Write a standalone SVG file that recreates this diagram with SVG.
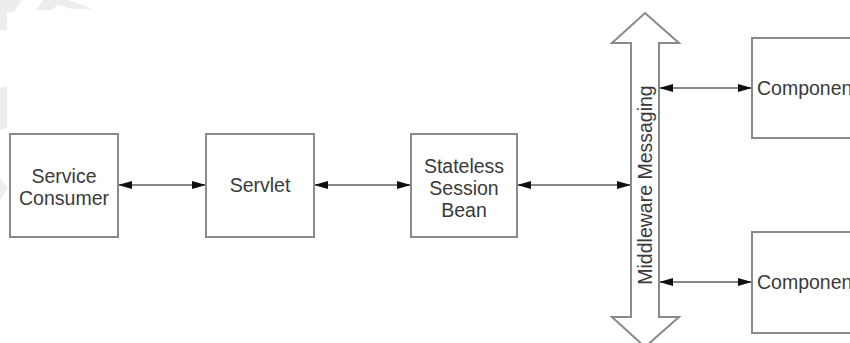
<svg xmlns="http://www.w3.org/2000/svg" width="850" height="343" viewBox="0 0 850 343">
  <style>
    .box { fill: #ffffff; stroke: #8a8a8a; stroke-width: 2; }
    .bus { fill: #ffffff; stroke: #8a8a8a; stroke-width: 2; stroke-linejoin: miter; }
    .label { font-family: "Liberation Sans", Arial, sans-serif; font-size: 19.5px; fill: #3a3a3a; text-anchor: middle; }
    .link { stroke: #606060; stroke-width: 1.6; fill: none; marker-start: url(#head); marker-end: url(#head); }
    .mark { fill: #ededed; }
  </style>
  <defs>
    <marker id="head" viewBox="0 0 14 10" refX="14" refY="5" markerWidth="14" markerHeight="10" markerUnits="userSpaceOnUse" orient="auto-start-reverse">
      <path d="M0,1 L14,5 L0,9 Z" fill="#111111"/>
    </marker>
  </defs>

  <rect width="850" height="343" fill="#ffffff"/>

  <!-- faint background mark at the upper left -->
  <g id="bg-mark">
    <polygon class="mark" points="0,0 22,0 14,12 7,12 7,30 0,30"/>
    <polygon class="mark" points="43,0 62,0 52,10 36,10"/>
    <polygon class="mark" points="44,0 68,0 92,9 72,9"/>
    <polygon class="mark" points="0,88 7,86 7,128 0,130"/>
    <polygon class="mark" points="0,178 8,188 0,200"/>
  </g>

  <!-- connectors -->
  <g id="connectors">
    <line class="link" x1="118" y1="185" x2="206" y2="185"/>
    <line class="link" x1="314" y1="185" x2="411" y2="185"/>
    <line class="link" x1="517" y1="185" x2="631" y2="185"/>
    <line class="link" x1="659" y1="88" x2="752" y2="88"/>
    <line class="link" x1="659" y1="282" x2="752" y2="282"/>
  </g>

  <g id="service-consumer">
    <rect class="box" x="10" y="134" width="108" height="103"/>
    <text class="label" x="64" y="183">Service</text>
    <text class="label" x="64" y="205">Consumer</text>
  </g>

  <g id="servlet">
    <rect class="box" x="206" y="134" width="108" height="103"/>
    <text class="label" x="260" y="192">Servlet</text>
  </g>

  <g id="stateless-session-bean">
    <rect class="box" x="411" y="134" width="106" height="103"/>
    <text class="label" x="464" y="173">Stateless</text>
    <text class="label" x="464" y="195">Session</text>
    <text class="label" x="464" y="217">Bean</text>
  </g>

  <g id="middleware-messaging">
    <polygon class="bus" points="645,13 679,43 659,43 659,317 679,317 645,347 612,317 631,317 631,43 612,43"/>
    <text class="label" transform="translate(652,185) rotate(-90)" x="0" y="0">Middleware Messaging</text>
  </g>

  <g id="component-top">
    <rect class="box" x="752" y="38" width="120" height="100"/>
    <text class="label" x="757" y="95" style="text-anchor:start">Component</text>
  </g>

  <g id="component-bottom">
    <rect class="box" x="752" y="232" width="120" height="101"/>
    <text class="label" x="757" y="289" style="text-anchor:start">Component</text>
  </g>
</svg>
